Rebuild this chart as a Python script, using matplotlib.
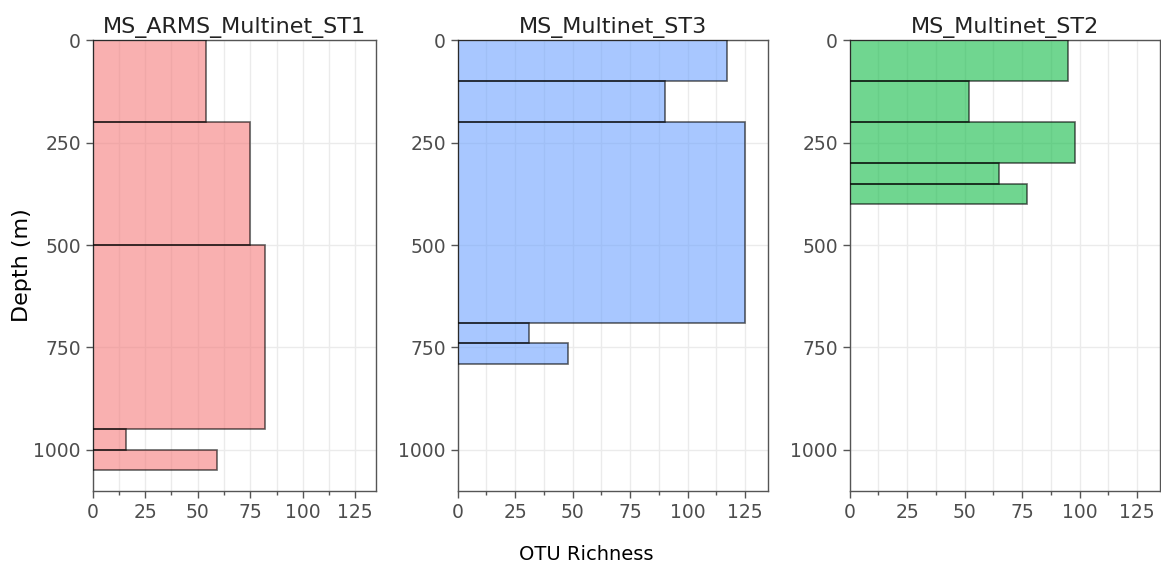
import matplotlib
matplotlib.use("Agg")
import matplotlib.pyplot as plt
from matplotlib.ticker import MultipleLocator

# Sampling stations and their depth strata (top, bottom in m) with OTU richness
stations = ["MS_ARMS_Multinet_ST1", "MS_Multinet_ST3", "MS_Multinet_ST2"]

st1_top = [0, 200, 500, 950, 1000]
st1_bottom = [200, 500, 950, 1000, 1050]
st1_richness = [54, 75, 82, 16, 59]

st3_top = [0, 100, 200, 690, 740]
st3_bottom = [100, 200, 690, 740, 790]
st3_richness = [117, 90, 125, 31, 48]

st2_top = [0, 100, 200, 300, 350]
st2_bottom = [100, 200, 300, 350, 400]
st2_richness = [95, 52, 98, 65, 77]

colors = ["#F57C7C", "#6EA3FF", "#11BB46"]

data = [
    (st1_top, st1_bottom, st1_richness),
    (st3_top, st3_bottom, st3_richness),
    (st2_top, st2_bottom, st2_richness),
]

W, H = 1161, 568
fig = plt.figure(figsize=(W / 100, H / 100), dpi=100)

# axes boxes in pixels: (left, right)
boxes = [(92.7, 376.3), (457.7, 768.0), (849.7, 1160.0)]
top_px, bottom_px = 40.3, 490.7

for i, (name, (tops, bottoms, rich), col, (l, r)) in enumerate(
        zip(stations, data, colors, boxes)):
    ax = fig.add_axes([l / W, (H - bottom_px) / H, (r - l) / W,
                       (bottom_px - top_px) / H])
    heights = [b - t for t, b in zip(tops, bottoms)]
    ax.barh(tops, rich, height=heights, align="edge", color=col, alpha=0.6,
            edgecolor="none", zorder=2)
    ax.barh(tops, rich, height=heights, align="edge", facecolor="none",
            edgecolor=(0, 0, 0, 0.6), linewidth=1.2, zorder=3)
    ax.set_xlim(0, 135)
    ax.set_ylim(1100, 0)
    ax.xaxis.set_major_locator(MultipleLocator(25))
    ax.xaxis.set_minor_locator(MultipleLocator(12.5))
    ax.yaxis.set_major_locator(MultipleLocator(250))
    ax.grid(True, which="major", color="#EBEBEB", linewidth=1.0, zorder=0)
    ax.grid(True, which="minor", axis="x", color="#EBEBEB", linewidth=1.0,
            zorder=0)
    ax.set_axisbelow(True)
    for s in ax.spines.values():
        s.set_color("#555555")
        s.set_linewidth(1.0)
    ax.tick_params(which="major", length=5, width=1.0, color="#555555",
                   labelsize=13.5, labelcolor="#4D4D4D", pad=3.5)
    ax.tick_params(which="minor", length=3, width=1.0, color="#555555")
    ax.set_title(name, fontsize=16, color="#222222", pad=5)

fig.text(22 / W, 1 - 265 / H, "Depth (m)", ha="center", va="center",
         rotation=90, fontsize=16, color="black")
fig.text(586 / W, 1 - 555 / H, "OTU Richness", ha="center", va="center",
         fontsize=14, color="black")

fig.savefig("out.png", dpi=100, facecolor="white")
